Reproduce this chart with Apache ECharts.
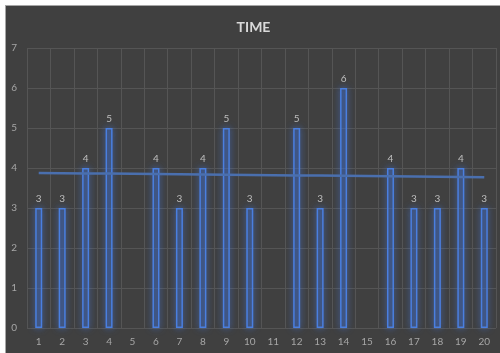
<!DOCTYPE html>
<html>
<head>
<meta charset="utf-8">
<script src="https://cdn.jsdelivr.net/npm/echarts@6/dist/echarts.min.js"></script>
<style>
  html, body { margin: 0; padding: 0; background: #ffffff; overflow: hidden; }
  #frame { position: absolute; left: 5px; top: 5px; width: 495px; height: 348px;
           background: #404040; border-left: 1px solid #a6a6a6; border-top: 1px solid #a6a6a6; }
  #chart { width: 495px; height: 348px; }
</style>
</head>
<body>
<div id="frame"><div id="chart"></div></div>
<script>
// Day numbers along the bottom axis
const categories = ['1','2','3','4','5','6','7','8','9','10','11','12','13','14','15','16','17','18','19','20'];
// Recorded time per day (blank days have no bar)
const timeValues = [3, 3, 4, 5, null, 4, 3, 4, 5, 3, null, 5, 3, 6, null, 4, 3, 3, 4, 3];
const yTicks = [0, 1, 2, 3, 4, 5, 6, 7];

// Least-squares linear trend over the recorded days
function linearTrend(vals) {
  const pts = [];
  vals.forEach((v, i) => { if (v != null) pts.push([i + 1, v]); });
  const n = pts.length;
  const mx = pts.reduce((s, p) => s + p[0], 0) / n;
  const my = pts.reduce((s, p) => s + p[1], 0) / n;
  let sxy = 0, sxx = 0;
  pts.forEach(p => { sxy += (p[0] - mx) * (p[1] - my); sxx += (p[0] - mx) * (p[0] - mx); });
  const slope = sxy / sxx;
  return vals.map((_, i) => +(my + slope * (i + 1 - mx)).toFixed(4));
}
const trendValues = linearTrend(timeValues);

const labelFont = 'Lato, "Open Sans", sans-serif';
const chart = echarts.init(document.getElementById('chart'));
chart.setOption({
  backgroundColor: '#404040',
  animation: false,
  title: {
    text: 'TIME',
    left: 'center',
    top: 9,
    textStyle: { color: '#d9d9d9', fontSize: 14, fontWeight: 'bold', fontFamily: labelFont }
  },
  grid: { left: 21, right: 5, top: 42, bottom: 26 },
  xAxis: {
    type: 'category',
    data: categories,
    boundaryGap: true,
    axisLine: { show: false },
    axisTick: { show: false },
    axisLabel: { color: '#a6a6a6', fontSize: 10, margin: 9, fontFamily: labelFont },
    splitLine: { show: true, lineStyle: { color: '#555555', width: 1 } }
  },
  yAxis: {
    type: 'value',
    min: yTicks[0],
    max: yTicks[yTicks.length - 1],
    interval: 1,
    axisLine: { show: false },
    axisTick: { show: false },
    axisLabel: { color: '#a6a6a6', fontSize: 10, margin: 10, fontFamily: labelFont },
    splitLine: { lineStyle: { color: '#555555', width: 1 } }
  },
  series: [
    {
      type: 'bar',
      data: timeValues,
      barWidth: 7,
      itemStyle: {
        color: 'rgba(60, 100, 180, 0.25)',
        borderColor: '#4a7fe0',
        borderWidth: 1.5,
        shadowBlur: 7,
        shadowColor: 'rgba(70, 120, 220, 0.9)'
      },
      label: {
        show: true,
        position: 'top',
        distance: 4,
        color: '#bfbfbf',
        fontSize: 10,
        fontFamily: labelFont
      },
      z: 2
    },
    {
      type: 'line',
      data: trendValues,
      symbol: 'none',
      lineStyle: { color: '#4a6fae', width: 2.5 },
      z: 3
    }
  ]
});
</script>
</body>
</html>
